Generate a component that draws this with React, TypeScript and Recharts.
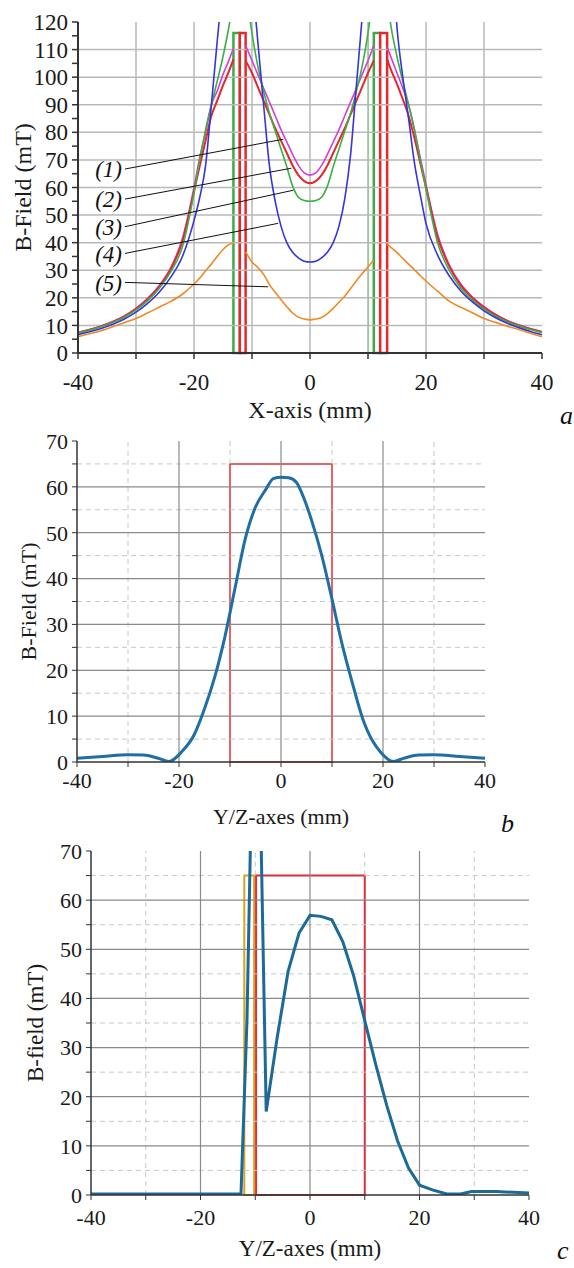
import React from 'react';
import { LineChart, Line, XAxis, YAxis, ReferenceLine, ReferenceArea, ReferenceDot, Label } from 'recharts';

const FONT = '"Liberation Serif", "Times New Roman", Times, serif';

// ---------- Panel a ----------
const xA = [-40, -38, -36, -34, -32, -30, -28, -26, -24, -22, -20, -19, -18, -17, -16, -15, -14, -13.2, -12.1,
  -11.1, -10, -9, -8, -7, -6, -5, -4, -3, -2, -1, 0, 1, 2, 3, 4, 5, 6, 7, 8, 9, 10, 11, 12.1,
  13.3, 14, 15, 16, 17, 18, 19, 20, 22, 24, 26, 28, 30, 32, 34, 36, 38, 40];

const curve1 = [7.4, 8.5, 9.8, 11.4, 13.4, 16.2, 19.8, 24.5, 31, 41.5, 60, 71, 80, 90, 95, 101, 106, 110.5, null,
  111.5, 106, 101, 96, 91, 86, 81, 76.5, 72, 68, 65.3, 64.5, 65.3, 68, 72, 76.5, 81, 86, 91, 96, 101, 106, 111.5, null,
  111, 107, 101.5, 96, 90, 81, 71, 61, 43, 32, 25, 20.3, 16.8, 14, 11.8, 10.2, 8.8, 7.7];

const curve2 = [7.3, 8.4, 9.7, 11.3, 13.3, 16, 19.5, 24, 30.5, 40.5, 58.5, 68, 77, 86, 91.5, 97, 102, 106.5, null,
  106, 101.5, 96.5, 91.5, 86.5, 81.5, 77, 72.5, 68, 64.5, 62.3, 61.5, 62.3, 64.5, 68, 72.5, 77, 81.5, 86.5, 91.5, 96.5, 101.5, 106, null,
  106.5, 102.5, 97.5, 92, 86, 78, 69, 60, 42, 31.5, 24.5, 20, 16.5, 13.8, 11.6, 10, 8.7, 7.6];

const curve3 = [7.3, 8.3, 9.6, 11.1, 13, 15.6, 19, 23.4, 29.5, 38.5, 58, 70, 81, 90, 98.5, 107.5, 118, 128, null,
  132, 116, 104, 95, 87, 80.5, 74, 67.5, 60.5, 56.5, 55.3, 55, 55.3, 56.5, 60.5, 67.5, 74, 80.5, 87, 95, 104, 116, 132, null,
  128, 118, 107.5, 98.5, 90, 81, 70, 59.5, 40, 30, 23.5, 19.2, 15.9, 13.3, 11.3, 9.8, 8.5, 7.4];

const curve4 = [6.6, 7.7, 8.9, 10.4, 12.3, 14.8, 18, 22, 27.5, 35, 48, 56.5, 68, 90, 113, 135, 155, 170, null,
  200, 140, 113, 90, 68, 55, 46, 40, 36.5, 34.5, 33.3, 33, 33.3, 34.5, 36.5, 40, 46, 56, 72, 97, 122, 150, 200, null,
  170, 150, 118, 100, 85, 69, 57.5, 47, 35.5, 28, 22.5, 18.5, 15.3, 12.8, 10.8, 9.2, 7.8, 6.6];

const curve5 = [5.9, 7, 8.1, 9.5, 11, 12.5, 14.5, 16.6, 18.7, 21.3, 25, 27.2, 29.8, 32.3, 35, 37.5, 39.3, 39.8, null,
  36.7, 33, 31, 28.5, 24.8, 22, 19.3, 16.8, 14.5, 13, 12.3, 12, 12.3, 12.9, 14.3, 16.2, 18.4, 20.6, 23.4, 26.2, 28.8, 31.2, 33.7, null,
  39.4, 38.2, 36.4, 34.3, 32.2, 30.2, 28.1, 26.1, 22.4, 18.8, 16.6, 14.6, 12.5, 11.1, 9.7, 8.5, 7.2, 5.9];

const ticksAX = [-40, -30, -20, -10, 0, 10, 20, 30, 40];
const ticksAY = [0, 5, 10, 15, 20, 25, 30, 35, 40, 45, 50, 55, 60, 65, 70, 75, 80, 85, 90, 95, 100, 105, 110, 115, 120];
const gridAX = [-30, -20, -10, 0, 10, 20, 30];
const gridAY = [10, 20, 30, 40, 50, 60, 70, 80, 90, 100, 110];
const greenEdgeA = [10.05];

// magnet outlines (x1, x2, top)
const magnetGreenA = [[-13.2, -12.1, 116], [11.0, 12.1, 116]];
const magnetRedA = [[-12.1, -11.1, 116], [12.1, 13.3, 116]];

// curve labels: text, start (x,y), end (x,y)
const labelNamesA = ['(1)', '(2)', '(3)', '(4)', '(5)'];
const labelStartX = [-31.9, -31.9, -31.9, -31.9, -31.9];
const labelStartY = [66.7, 55.8, 45.8, 36.1, 25.6];
const labelEndX = [-4.6, -3.2, -2.9, -5.5, -7.2];
const labelEndY = [77.5, 67, 59, 47, 24];

// ---------- Panel b ----------
const xB = [-40, -35, -30, -27, -24, -22, -19.5, -17, -15, -13, -11, -9, -7, -5, -3, -1.5, 0, 1.5, 3, 4.5, 6, 8, 10, 12, 14, 16, 18, 19.5, 22, 24, 27, 30, 35, 40];
const yB = [0.8, 1.2, 1.6, 1.5, 0.8, 0.1, 2.2, 6, 11.6, 18.5, 27.3, 38, 48.7, 55.6, 59.4, 61.8, 62.1, 62, 61, 57.5, 52.7, 45, 35.5, 25.6, 17.2, 9.5, 4.5, 2.2, 0.1, 0.8, 1.5, 1.6, 1.2, 0.8];

// ---------- Panel c ----------
const xC = [-40, -30, -20, -13, -12.6, -11.5, -10.8, -9.0, -8, -6, -4, -2, 0, 2, 4, 6, 8, 10, 12, 14, 16, 18, 20, 22.5, 25, 27.5, 29.5, 34, 40];
const yC = [0.2, 0.2, 0.2, 0.2, 0.3, 36, 76, 76, 17, 32, 45.5, 53.3, 56.9, 56.7, 56, 51.5, 44.5, 35.5, 26.6, 18.3, 11, 5.5, 2, 1, 0.2, 0.2, 0.7, 0.7, 0.4];

const ticksBX = [-40, -30, -20, -10, 0, 10, 20, 30, 40];
const ticksBY = [0, 5, 10, 15, 20, 25, 30, 35, 40, 45, 50, 55, 60, 65, 70];
const gridBXMajor = [-20, 0, 20];
const gridBXMinor = [-30, 30];
const gridBYMajor = [10, 20, 30, 40, 50, 60];
const gridBYMinor = [5, 15, 25, 35, 45, 55];
// dashed grid pieces that are partly hidden by the coil outlines
const gridBXMinorTop = [-10, 10];
const coilB = [-10, 10, 65];
const coilC = [-9.85, 10, 65];
const ringC = [-12, -10.2, 65];

const dataA = xA.map((x, i) => ({ x, c1: curve1[i], c2: curve2[i], c3: curve3[i], c4: curve4[i], c5: curve5[i] }));
const dataB = xB.map((x, i) => ({ x, v: yB[i] }));
const dataC = xC.map((x, i) => ({ x, v: yC[i] }));

const fmtX = (v: number) => (v % 20 === 0 ? String(v) : '');
const fmtY = (v: number) => (v % 10 === 0 ? String(v) : '');

const axisStroke = '#333';

export default function App() {
  const tickA = { fontFamily: FONT, fontSize: 23, fill: '#1a1a1a' };
  const tickB = { fontFamily: FONT, fontSize: 22, fill: '#1a1a1a' };
  const colorsA = ['#d23fd4', '#e5262b', '#3cb043', '#3535dc', '#f08a24'];
  const keysA = ['c1', 'c2', 'c3', 'c4', 'c5'];
  const dashed = { stroke: '#c8c8c8', strokeWidth: 1, strokeDasharray: '5 4' };

  const panelLetter = (t: string, left: number, top: number) => (
    <div style={{ position: 'absolute', left, top, fontFamily: FONT, fontStyle: 'italic', fontSize: 26, lineHeight: '26px', color: '#111' }}>{t}</div>
  );

  const grid = (leftEdge: number, rightEdge: number) => [
    ...gridBYMinor.map((v) => <ReferenceLine key={'ym' + v} y={v} {...dashed} />),
    <ReferenceLine key="y65a" segment={[{ x: -40, y: 65 }, { x: leftEdge, y: 65 }]} {...dashed} />,
    <ReferenceLine key="y65b" segment={[{ x: rightEdge, y: 65 }, { x: 40, y: 65 }]} {...dashed} />,
    ...gridBXMinor.map((v) => <ReferenceLine key={'xm' + v} x={v} {...dashed} />),
    ...gridBXMinorTop.map((v) => <ReferenceLine key={'xt' + v} segment={[{ x: v, y: 65 }, { x: v, y: 70 }]} {...dashed} />),
    ...gridBYMajor.map((v) => <ReferenceLine key={'yM' + v} y={v} stroke="#8a8a8a" strokeWidth={1.2} />),
    ...gridBXMajor.map((v) => <ReferenceLine key={'xM' + v} x={v} stroke="#8a8a8a" strokeWidth={1.2} />),
  ];

  return (
    <div style={{ position: 'absolute', left: 0, top: 0, width: 574, height: 1268, background: '#fff', overflow: 'hidden', fontFamily: FONT }}>
      <style>{`.recharts-wrapper text, .recharts-surface text { font-family: "Liberation Serif", "Times New Roman", serif !important; }`}</style>
      {/* Panel a */}
      <div style={{ position: 'absolute', left: 0, top: 0 }}>
        <LineChart width={574} height={430} data={dataA} margin={{ top: 22, right: 32, bottom: 0, left: 0 }}>
          {gridAY.map((v) => <ReferenceLine key={'gy' + v} y={v} stroke="#b9b9b9" strokeWidth={1.5} />)}
          {gridAX.map((v) => <ReferenceLine key={'gx' + v} x={v} stroke="#b9b9b9" strokeWidth={1.5} />)}
          {greenEdgeA.map((v) => <ReferenceLine key={'ge' + v} x={v} stroke="#8fce8f" strokeWidth={1.2} />)}
          <XAxis dataKey="x" type="number" domain={[-40, 40]} ticks={ticksAX} interval={0} tickFormatter={fmtX}
            height={77} tick={tickA} tickSize={6} tickMargin={15}
            axisLine={{ stroke: axisStroke, strokeWidth: 2 }} tickLine={{ stroke: axisStroke, strokeWidth: 1.5 }}>
            <Label value="X-axis (mm)" position="insideBottom" offset={12} fontFamily={FONT} fontSize={24} fill="#1a1a1a" />
          </XAxis>
          <YAxis type="number" domain={[0, 120]} ticks={ticksAY} interval={0} tickFormatter={fmtY} allowDataOverflow
            width={78} tick={tickA} tickSize={6} tickMargin={4}
            axisLine={{ stroke: axisStroke, strokeWidth: 2 }} tickLine={{ stroke: axisStroke, strokeWidth: 1.5 }}>
            <Label value="B-Field (mT)" angle={-90} position="insideLeft" offset={22} fontFamily={FONT} fontSize={24} fill="#1a1a1a" style={{ textAnchor: 'middle' }} />
          </YAxis>
          {keysA.map((k, i) => (
            <Line key={k} type="monotone" dataKey={k} stroke={colorsA[i]} strokeWidth={i === 1 ? 2 : 1.6} dot={false} isAnimationActive={false} connectNulls={false} />
          ))}
          {magnetGreenA.map((m, i) => (
            <ReferenceArea key={'mg' + i} x1={m[0]} x2={m[1]} y1={0} y2={m[2]} fill="#ffffff" fillOpacity={1} stroke="#3daa4a" strokeWidth={2.5} />
          ))}
          {magnetRedA.map((m, i) => (
            <ReferenceArea key={'mr' + i} x1={m[0]} x2={m[1]} y1={0} y2={m[2]} fill="#ffffff" fillOpacity={1} stroke="#e5282d" strokeWidth={2.5} />
          ))}
          {labelNamesA.map((n, i) => (
            <ReferenceLine key={'ll' + i} segment={[{ x: labelStartX[i], y: labelStartY[i] }, { x: labelEndX[i], y: labelEndY[i] }]} stroke="#111" strokeWidth={1} />
          ))}
          {labelNamesA.map((n, i) => (
            <ReferenceDot key={'ld' + i} x={labelStartX[i]} y={labelStartY[i]} r={0} fill="none" stroke="none">
              <Label value={n} position="left" offset={3} fontFamily={FONT} fontSize={23} fontStyle="italic" fill="#111" />
            </ReferenceDot>
          ))}
        </LineChart>
      </div>
      {panelLetter('a', 560, 403)}

      {/* Panel b */}
      <div style={{ position: 'absolute', left: 0, top: 430 }}>
        <LineChart width={574} height={400} data={dataB} margin={{ top: 11, right: 89, bottom: 0, left: 0 }}>
          {grid(coilB[0], coilB[1])}
          <XAxis dataKey="x" type="number" domain={[-40, 40]} ticks={ticksBX} interval={0} tickFormatter={fmtX}
            height={68} tick={tickB} tickSize={5} tickMargin={5}
            axisLine={{ stroke: axisStroke, strokeWidth: 1.5 }} tickLine={{ stroke: axisStroke }}>
            <Label value="Y/Z-axes (mm)" position="insideBottom" offset={6} fontFamily={FONT} fontSize={22} fill="#1a1a1a" />
          </XAxis>
          <YAxis type="number" domain={[0, 70]} ticks={ticksBY} interval={0} tickFormatter={fmtY} allowDataOverflow
            width={77} tick={tickB} tickSize={5} tickMargin={4}
            axisLine={{ stroke: axisStroke, strokeWidth: 1.5 }} tickLine={{ stroke: axisStroke }}>
            <Label value="B-Field (mT)" angle={-90} position="insideLeft" offset={28} fontFamily={FONT} fontSize={22} fill="#1a1a1a" style={{ textAnchor: 'middle' }} />
          </YAxis>
          <ReferenceArea x1={coilB[0]} x2={coilB[1]} y1={0} y2={coilB[2]} fill="none" fillOpacity={0} stroke="#e0303a" strokeWidth={1.5} />
          <Line type="monotone" dataKey="v" stroke="#1f6ea6" strokeWidth={3} dot={false} isAnimationActive={false} />
        </LineChart>
      </div>
      {panelLetter('b', 501, 811)}

      {/* Panel c */}
      <div style={{ position: 'absolute', left: 0, top: 830 }}>
        <LineChart width={574} height={438} data={dataC} margin={{ top: 21, right: 45, bottom: 0, left: 0 }}>
          {grid(ringC[0], coilC[1])}
          <XAxis dataKey="x" type="number" domain={[-40, 40]} ticks={ticksBX} interval={0} tickFormatter={fmtX}
            height={73} tick={tickB} tickSize={5} tickMargin={9}
            axisLine={{ stroke: axisStroke, strokeWidth: 1.5 }} tickLine={{ stroke: axisStroke }}>
            <Label value="Y/Z-axes (mm)" position="insideBottom" offset={12} fontFamily={FONT} fontSize={23} fill="#1a1a1a" />
          </XAxis>
          <YAxis type="number" domain={[0, 70]} ticks={ticksBY} interval={0} tickFormatter={fmtY} allowDataOverflow
            width={91} tick={tickB} tickSize={5} tickMargin={4}
            axisLine={{ stroke: axisStroke, strokeWidth: 1.5 }} tickLine={{ stroke: axisStroke }}>
            <Label value="B-field (mT)" angle={-90} position="insideLeft" offset={35} fontFamily={FONT} fontSize={23} fill="#1a1a1a" style={{ textAnchor: 'middle' }} />
          </YAxis>
          <ReferenceArea x1={ringC[0]} x2={ringC[1]} y1={0} y2={ringC[2]} fill="none" fillOpacity={0} stroke="#d9a21f" strokeWidth={2} />
          <ReferenceArea x1={coilC[0]} x2={coilC[1]} y1={0} y2={coilC[2]} fill="none" fillOpacity={0} stroke="#d9303a" strokeWidth={2} />
          <Line type="linear" dataKey="v" stroke="#1b6a98" strokeWidth={3} dot={false} isAnimationActive={false} />
        </LineChart>
      </div>
      {panelLetter('c', 557, 1238)}
    </div>
  );
}
